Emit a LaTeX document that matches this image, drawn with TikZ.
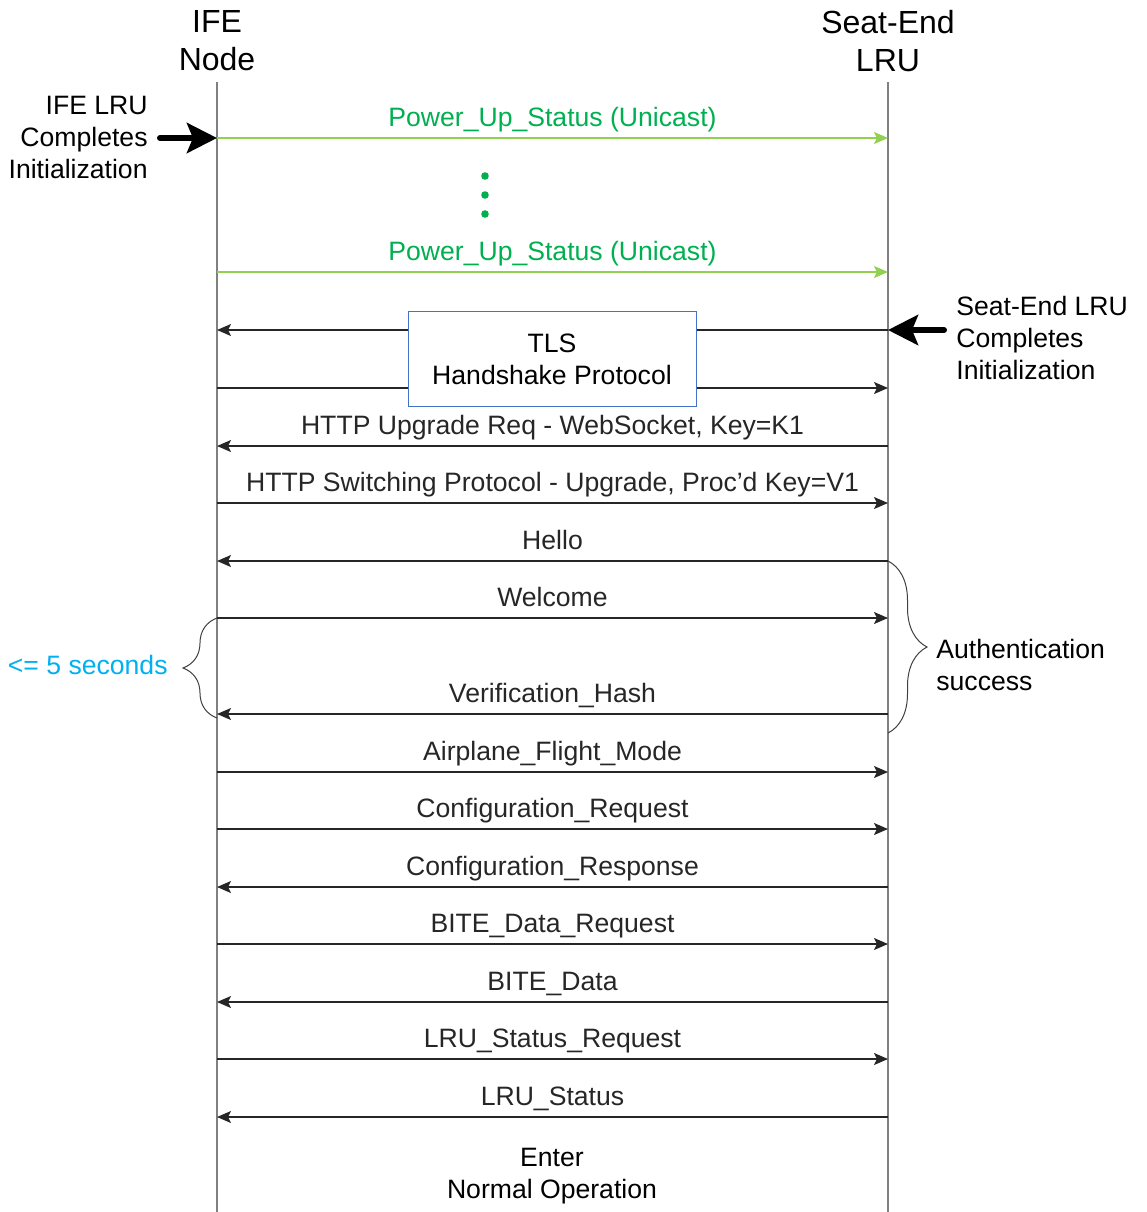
\documentclass[tikz,border=0pt]{standalone}
\usepackage{fontspec}
\setmainfont{Liberation Sans}
\usetikzlibrary{arrows.meta,decorations.pathreplacing}
\definecolor{lifegray}{HTML}{808080}
\definecolor{upgreen}{HTML}{92D050}
\definecolor{upgreentext}{HTML}{00B050}
\definecolor{boxblue}{HTML}{4472C4}
\definecolor{timecyan}{HTML}{00B0F0}

\begin{document}
\begin{tikzpicture}[x=0.5pt,y=-0.5pt,
   every node/.style={font=\fontsize{13.3}{16}\selectfont},
   header/.style={align=center,font=\fontsize{16}{19}\selectfont},
   lifeline/.style={lifegray,line width=1pt},
   msg/.style={-{Stealth[length=7pt,width=6pt,inset=1.5pt]},line width=0.7pt,black!85},
   msggreen/.style={msg,draw=upgreen,line width=0.55pt},
   lbl/.style={midway,anchor=base,yshift=6pt},
   initarrow/.style={-{Stealth[length=15pt,width=15pt,inset=3pt]},line width=3pt,line cap=round},
   note/.style={inner sep=0pt},
   dot/.style={circle,fill=upgreentext,inner sep=0pt,minimum size=3.8pt},
   bracestyle/.style={decorate,draw=black!75,line width=0.5pt}]
   \useasboundingbox (0,0) rectangle (1147,1212);
   \node[header] (ife) at (217,41) {IFE\\Node};
   \node[header] (seat) at (888,41) {Seat-End\\LRU};
   \coordinate (ifetop) at (217,82);
   \coordinate (ifebot) at (217,1212);
   \coordinate (seattop) at (888,82);
   \coordinate (seatbot) at (888,1212);
   \draw[lifeline] (ifetop) -- (ifebot);
   \draw[lifeline] (seattop) -- (seatbot);
   \foreach \n/\y in {1/138,2/272,3/330,4/388,5/446,6/503,7/561,8/618,9/714,10/772,11/829,12/887,13/944,14/1002,15/1059,16/1117}
      {\coordinate (L\n) at (217,\y);
       \coordinate (R\n) at (888,\y);}
   \draw[msggreen] (L1) -- node[lbl,upgreentext] (m1) {Power\_Up\_Status (Unicast)} (R1);
   \foreach \i/\y in {1/176,2/195,3/214}
      \node[dot] (dot\i) at (485,\y) {};
   \draw[msggreen] (L2) -- node[lbl,upgreentext] (m2) {Power\_Up\_Status (Unicast)} (R2);
   \draw[msg] (R3) -- (L3);
   \draw[msg] (L4) -- (R4);
   \node[draw=boxblue,fill=white,line width=0.5pt,minimum width=144pt,minimum height=47.5pt,align=center] (tls) at (552,359) {TLS\\Handshake Protocol};
   \draw[msg] (R5) -- node[lbl] (m5) {HTTP Upgrade Req - WebSocket, Key=K1} (L5);
   \draw[msg] (L6) -- node[lbl] (m6) {HTTP Switching Protocol - Upgrade, Proc’d Key=V1} (R6);
   \draw[msg] (R7) -- node[lbl] (m7) {Hello} (L7);
   \draw[msg] (L8) -- node[lbl] (m8) {Welcome} (R8);
   \draw[msg] (R9) -- node[lbl] (m9) {Verification\_Hash} (L9);
   \draw[msg] (L10) -- node[lbl] (m10) {Airplane\_Flight\_Mode} (R10);
   \draw[msg] (L11) -- node[lbl] (m11) {Configuration\_Request} (R11);
   \draw[msg] (R12) -- node[lbl] (m12) {Configuration\_Response} (L12);
   \draw[msg] (L13) -- node[lbl] (m13) {BITE\_Data\_Request} (R13);
   \draw[msg] (R14) -- node[lbl] (m14) {BITE\_Data} (L14);
   \draw[msg] (L15) -- node[lbl] (m15) {LRU\_Status\_Request} (R15);
   \draw[msg] (R16) -- node[lbl] (m16) {LRU\_Status} (L16);
   \node[align=center] (normal) at (552,1176) {Enter\\Normal Operation};
   \node[note,align=right,anchor=east] (ifelru) at (148,137) {IFE LRU\\Completes\\Initialization};
   \coordinate (ifetail) at (160,138);
   \draw[initarrow] (ifetail) -- (L1);
   \node[note,align=left,anchor=west] (selru) at (956,338) {Seat-End LRU\\Completes\\Initialization};
   \coordinate (seattail) at (944,330);
   \draw[initarrow] (seattail) -- (R3);
   \coordinate (authtop) at (888,561);
   \coordinate (authbot) at (888,733);
   \draw[bracestyle,decoration={brace,amplitude=19.5pt}] (authtop) -- (authbot);
   \node[note,align=left,anchor=west] (auth) at (936,664.5) {Authentication\\success};
   \coordinate (fivetop) at (217,618);
   \coordinate (fivebot) at (217,718);
   \draw[bracestyle,decoration={brace,amplitude=17pt}] (fivebot) -- (fivetop);
   \node[note,anchor=east,timecyan] (five) at (168,665) {<= 5 seconds};
  \end{tikzpicture}
\end{document}
